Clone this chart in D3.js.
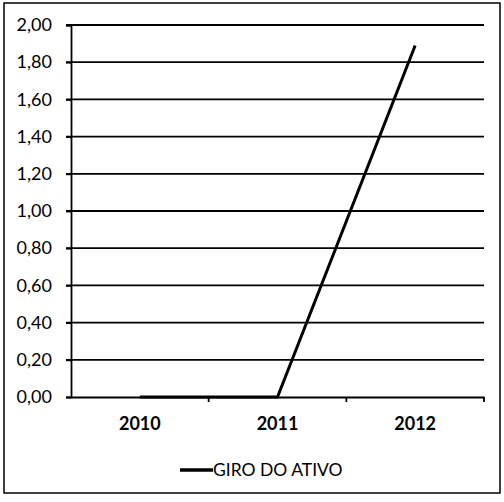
<!DOCTYPE html>
<html>
<head>
<meta charset="utf-8">
<script src="https://cdnjs.cloudflare.com/ajax/libs/d3/7.8.5/d3.min.js"></script>
<style>
  body { margin: 0; background: #fff; }
  text { font-family: Lato, "Open Sans", sans-serif; fill: #000; }
</style>
</head>
<body>
<div id="container"></div>
<script>
var years = ['2010', '2011', '2012'];
var giroDoAtivo = [0.00, 0.00, 1.89];
var yTicks = [0, 0.2, 0.4, 0.6, 0.8, 1.0, 1.2, 1.4, 1.6, 1.8, 2.0];
var seriesName = 'GIRO DO ATIVO';

var width = 504, height = 502;
var plot = { left: 71, right: 484, top: 25, bottom: 397 };

var svg = d3.select('#container').append('svg')
  .attr('width', width).attr('height', height);

svg.append('rect')
  .attr('x', 4).attr('y', 3).attr('width', 496).attr('height', 490)
  .attr('fill', 'none').attr('stroke', '#000').attr('stroke-width', 1.5);

var x = d3.scaleBand().domain(years).range([plot.left, plot.right]);
var y = d3.scaleLinear().domain([0, 2]).range([plot.bottom, plot.top]);

var fmt = function(d) { return d3.format('.2f')(d).replace('.', ','); };

// gridlines
svg.append('g').selectAll('line')
  .data(yTicks.filter(function(d) { return d > 0; }))
  .enter().append('line')
  .attr('x1', plot.left - 5).attr('x2', plot.right)
  .attr('y1', function(d) { return y(d); }).attr('y2', function(d) { return y(d); })
  .attr('stroke', '#000').attr('stroke-width', 1.8);

// y axis
var yAxis = svg.append('g')
  .attr('transform', 'translate(' + plot.left + ',0)')
  .call(d3.axisLeft(y).tickValues(yTicks).tickFormat(fmt).tickSize(5).tickPadding(14));
yAxis.select('.domain').attr('stroke-width', 1.8);
yAxis.selectAll('.tick line').attr('stroke-width', 1.8);
yAxis.selectAll('text').style('font-size', '18px');

// x axis
var xAxis = svg.append('g')
  .attr('transform', 'translate(0,' + plot.bottom + ')')
  .call(d3.axisBottom(x).tickSize(0).tickPadding(20));
xAxis.select('.domain').attr('stroke-width', 1.8);
xAxis.selectAll('text').style('font-size', '18px').style('font-weight', 'bold');

// category boundary ticks
var bounds = years.slice(1).map(function(d) { return x(d); }).concat([plot.right]);
svg.append('g').selectAll('line')
  .data(bounds).enter().append('line')
  .attr('x1', function(d) { return d; }).attr('x2', function(d) { return d; })
  .attr('y1', plot.bottom).attr('y2', plot.bottom + 5)
  .attr('stroke', '#000').attr('stroke-width', 1.8);

// series line
var line = d3.line()
  .x(function(d, i) { return x(years[i]) + x.bandwidth() / 2; })
  .y(function(d) { return y(d); });

svg.append('path')
  .datum(giroDoAtivo)
  .attr('d', line)
  .attr('fill', 'none').attr('stroke', '#000').attr('stroke-width', 3);

// legend
var lg = svg.append('g').attr('transform', 'translate(180,470)');
lg.append('line').attr('x1', 0).attr('x2', 33).attr('y1', 0).attr('y2', 0)
  .attr('stroke', '#000').attr('stroke-width', 3.5);
lg.append('text').attr('x', 33).attr('y', 6)
  .style('font-size', '17.5px').text(seriesName);
</script>
</body>
</html>
